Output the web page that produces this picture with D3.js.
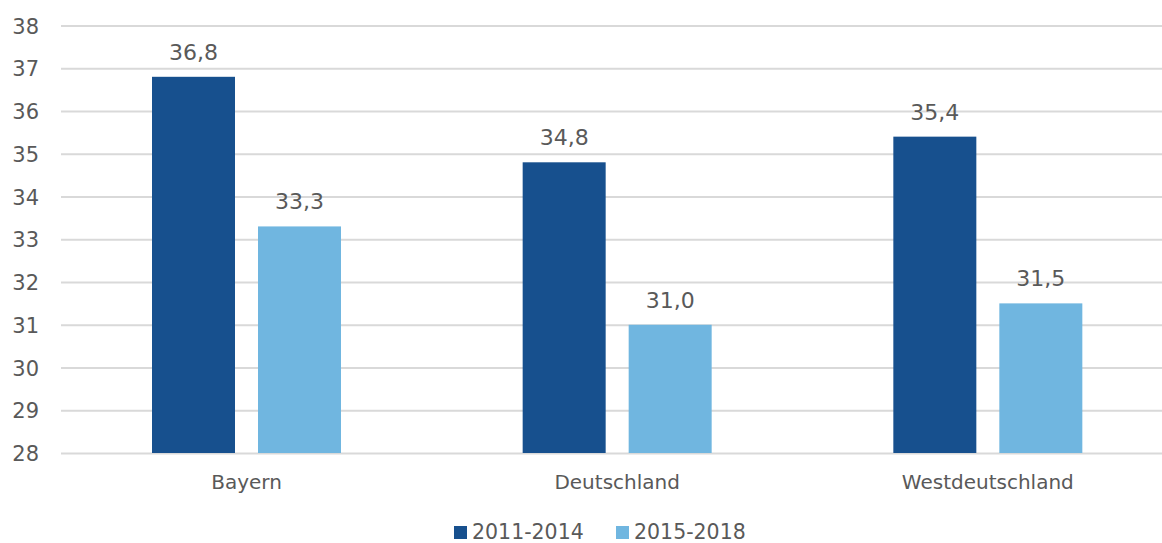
<!DOCTYPE html>
<html>
<head>
<meta charset="utf-8">
<script src="https://cdn.jsdelivr.net/npm/d3@7"></script>
<style>
  html, body { margin: 0; padding: 0; background: #fff; }
  svg text { font-family: "DejaVu Sans", "Liberation Sans", Arial, sans-serif; fill: #595959; }
</style>
</head>
<body>
<svg id="chart" width="1162" height="543"></svg>
<script>
// Regions and periods
const regions = ["Bayern", "Deutschland", "Westdeutschland"];
const periods = ["2011-2014", "2015-2018"];
// Values per period, in region order
const values2011 = [36.8, 34.8, 35.4];
const values2015 = [33.3, 31.0, 31.5];
const yTicks = [28, 29, 30, 31, 32, 33, 34, 35, 36, 37, 38];
const periodColors = ["#17508e", "#70b6e0"];

const rows = regions.map((r, i) => ({ region: r, vals: [values2011[i], values2015[i]] }));

const svg = d3.select("#chart");
const plot = { left: 61, right: 1173, top: 25.5, bottom: 453 };

const y = d3.scaleLinear().domain([28, 38]).range([plot.bottom, plot.top]);
const x0 = d3.scaleBand().domain(regions).range([plot.left, plot.right]).paddingInner(0).paddingOuter(0);
// two bars per band: 83px wide with a 23px gap
const x1 = d3.scaleBand().domain(periods).range([91, 280]).paddingInner(0.217).paddingOuter(0);

// Gridlines and tick labels
const yAxis = d3.axisLeft(y).tickValues(yTicks).tickSize(-(1162 - plot.left)).tickFormat(d3.format("d"));
const gAxis = svg.append("g").attr("transform", `translate(${plot.left},0)`).call(yAxis);
gAxis.select(".domain").remove();
gAxis.selectAll(".tick line").attr("stroke", "#d9d9d9").attr("stroke-width", 2);
gAxis.selectAll(".tick text")
  .attr("x", -22).attr("dy", "0.36em")
  .style("font-size", "21px").style("font-family", "'DejaVu Sans', sans-serif").style("fill", "#595959");

// Bars
const groups = svg.append("g").selectAll("g").data(rows).join("g")
  .attr("transform", d => `translate(${x0(d.region)},0)`);

groups.selectAll("rect").data(d => d.vals.map((v, i) => ({ v, p: periods[i], i })))
  .join("rect")
  .attr("x", d => x1(d.p))
  .attr("width", x1.bandwidth())
  .attr("y", d => y(d.v))
  .attr("height", d => y(28) - y(d.v))
  .attr("fill", d => periodColors[d.i]);

// Value labels
groups.selectAll("text.val").data(d => d.vals.map((v, i) => ({ v, p: periods[i] })))
  .join("text")
  .attr("class", "val")
  .attr("x", d => x1(d.p) + x1.bandwidth() / 2)
  .attr("y", d => y(d.v) - 17)
  .attr("text-anchor", "middle")
  .style("font-size", "22px")
  .text(d => d3.format(".1f")(d.v).replace(".", ","));

// Category labels
const catX = r => x0(r) + (x1(periods[0]) + x1(periods[1]) + x1.bandwidth()) / 2;
svg.append("g").selectAll("text").data(regions).join("text")
  .attr("x", d => catX(d))
  .attr("y", 489)
  .attr("text-anchor", "middle")
  .style("font-size", "20px")
  .text(d => d);

// Legend
const legendItems = [{ label: periods[0], x: 454 }, { label: periods[1], x: 616 }];
const lg = svg.append("g").selectAll("g").data(legendItems).join("g")
  .attr("transform", d => `translate(${d.x},526)`);
lg.append("rect").attr("width", 13).attr("height", 13)
  .attr("fill", (d, i) => periodColors[i]);
lg.append("text").attr("x", 18).attr("y", 13)
  .style("font-size", "20.5px")
  .text(d => d.label);
</script>
</body>
</html>
